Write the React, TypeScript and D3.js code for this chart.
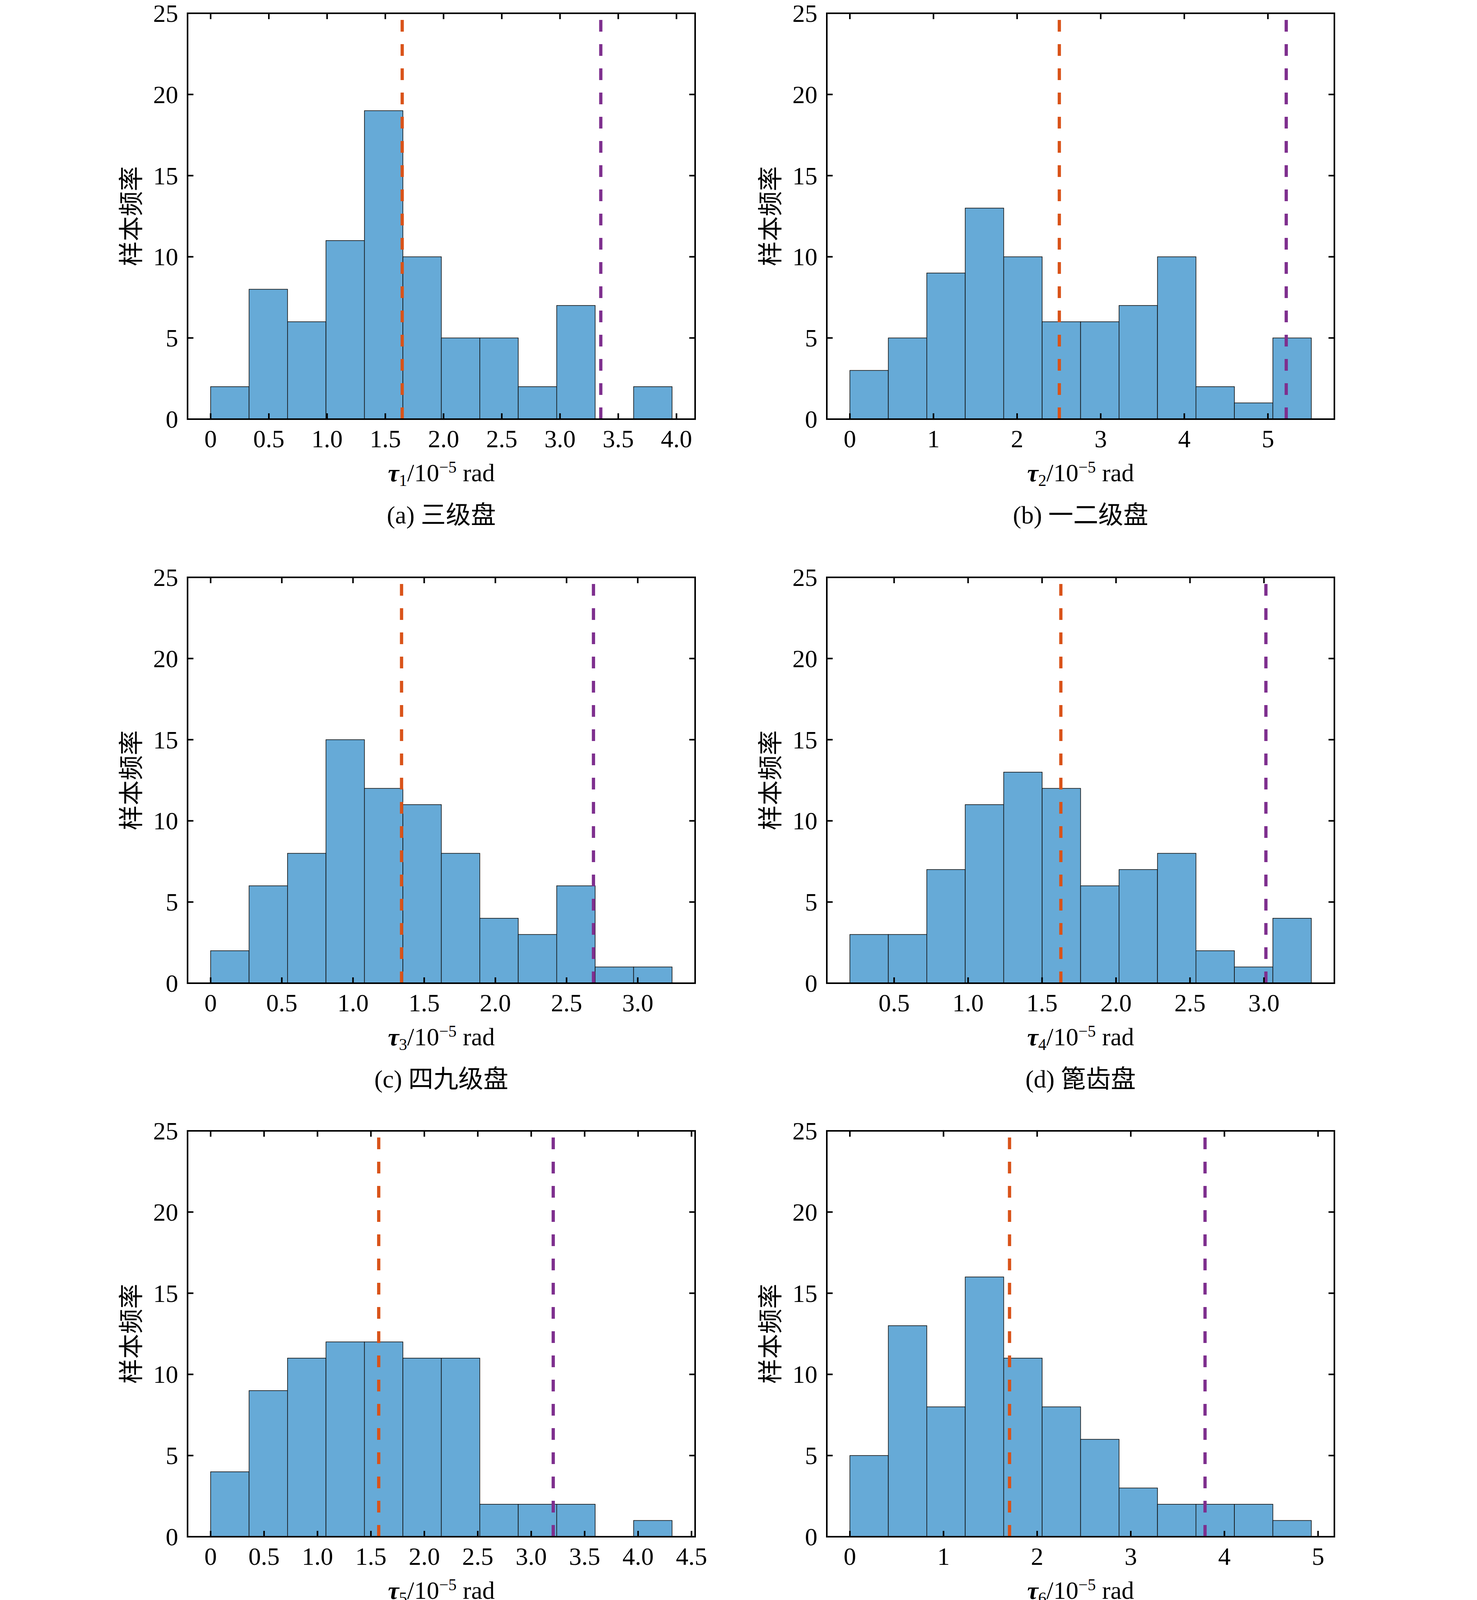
import React, { useLayoutEffect } from 'react';
import * as d3 from 'd3';

const W = 3780;
const H = 5655;

// ---------- data ----------
const CAPTIONS = ['(a) 三级盘', '(b) 一二级盘', '(c) 四九级盘', '(d) 篦齿盘', '(e) 鼓筒轴', '(f) 封严盘', '(g) 涡轮盘', '(h) 后轴'];
const TAU_INDEX = ['1', '2', '3', '4', '5', '6', '7', '8'];

// histogram bin ranges (first edge, last edge), 12 bins each
const BIN_START = [0, 0, 0, 0.201, 0, 0, 0, 0];
const BIN_END = [3.962, 5.519, 3.241, 3.32, 4.318, 4.928, 5.401, 5.165];

const COUNTS_A = [2, 8, 6, 11, 19, 10, 5, 5, 2, 7, 0, 2];
const COUNTS_B = [3, 5, 9, 13, 10, 6, 6, 7, 10, 2, 1, 5];
const COUNTS_C = [2, 6, 8, 15, 12, 11, 8, 4, 3, 6, 1, 1];
const COUNTS_D = [3, 3, 7, 11, 13, 12, 6, 7, 8, 2, 1, 4];
const COUNTS_E = [4, 9, 11, 12, 12, 11, 11, 2, 2, 2, 0, 1];
const COUNTS_F = [5, 13, 8, 16, 11, 8, 6, 3, 2, 2, 2, 1];
const COUNTS_G = [3, 14, 16, 13, 9, 9, 6, 1, 3, 1, 1, 1];
const COUNTS_H = [8, 8, 15, 7, 13, 11, 5, 4, 3, 1, 1, 1];
const COUNTS = [COUNTS_A, COUNTS_B, COUNTS_C, COUNTS_D, COUNTS_E, COUNTS_F, COUNTS_G, COUNTS_H];

// vertical dashed reference lines
const RED_X = [1.645, 2.505, 1.341, 1.627, 1.573, 1.705, 1.744, 1.774];
const PURPLE_X = [3.35, 5.219, 2.689, 3.013, 3.206, 3.793, 3.867, 3.979];

const XTICKS_A = [0, 0.5, 1, 1.5, 2, 2.5, 3, 3.5, 4];
const XTICKS_B = [0, 1, 2, 3, 4, 5];
const XTICKS_C = [0, 0.5, 1, 1.5, 2, 2.5, 3];
const XTICKS_D = [0.5, 1, 1.5, 2, 2.5, 3];
const XTICKS_E = [0, 0.5, 1, 1.5, 2, 2.5, 3, 3.5, 4, 4.5];
const XTICKS_F = [0, 1, 2, 3, 4, 5];
const XTICKS_G = [0, 1, 2, 3, 4, 5];
const XTICKS_H = [0, 1, 2, 3, 4, 5];
const XTICKS = [XTICKS_A, XTICKS_B, XTICKS_C, XTICKS_D, XTICKS_E, XTICKS_F, XTICKS_G, XTICKS_H];
const DECIMAL_LABELS = [true, false, true, true, true, false, false, false];

const Y_TICKS = [0, 5, 10, 15, 20, 25];
const Y_MAX = 25;
const N_BINS = 12;
const Y_LABEL = '样本频率';

// ---------- layout ----------
const COL_LEFT = [480, 2116];
const ROW_TOP = [34, 1478, 2895, 4320];
const BANDS = [0, 1420, 2840, 4255, 5655];
const PLOT_W = 1299;
const PLOT_H = 1039;

const BAR_FILL = '#66aad7';
const RED = '#d95319';
const PURPLE = '#7e2f8e';
const SERIF = "Liberation Serif, Times New Roman, Noto Sans CJK SC, serif";
const CJK = "Noto Sans CJK SC, sans-serif";
const FS = 64;

function Panel({ idx }: { idx: number }) {
  const col = idx % 2;
  const row = Math.floor(idx / 2);
  const left = COL_LEFT[col];
  const top = ROW_TOP[row];
  const right = left + PLOT_W;
  const bottom = top + PLOT_H;

  const start = BIN_START[idx];
  const end = BIN_END[idx];
  const pad = (end - start) * 0.05;
  const x = d3.scaleLinear().domain([start - pad, end + pad]).range([left, right]);
  const y = d3.scaleLinear().domain([0, Y_MAX]).range([bottom, top]);
  const bw = (end - start) / N_BINS;
  const counts = COUNTS[idx];
  const fmt = (v: number) => (DECIMAL_LABELS[idx] ? (v === 0 ? '0' : v.toFixed(1)) : String(v));
  const cx = (left + right) / 2;
  const tickLen = 15;

  return (
    <g>
      {counts.map((c, i) => {
        if (c === 0) return null;
        const x0 = x(start + i * bw);
        const x1 = x(start + (i + 1) * bw);
        return (
          <rect key={i} x={x0} y={y(c)} width={x1 - x0} height={y(0) - y(c)} fill={BAR_FILL} stroke="#111" strokeWidth={1.6} />
        );
      })}
      {[{ v: RED_X[idx], c: RED }, { v: PURPLE_X[idx], c: PURPLE }].map((l, i) => (
        <line key={i} x1={x(l.v)} x2={x(l.v)} y1={y(0)} y2={y(Y_MAX)} stroke={l.c} strokeWidth={8.3} strokeDasharray="30 32" />
      ))}
      <rect x={left} y={top} width={PLOT_W} height={PLOT_H} fill="none" stroke="#000" strokeWidth={4} />
      {XTICKS[idx].map((t) => (
        <g key={'x' + t}>
          <line x1={x(t)} x2={x(t)} y1={bottom} y2={bottom - tickLen} stroke="#000" strokeWidth={4} />
          <line x1={x(t)} x2={x(t)} y1={top} y2={top + tickLen} stroke="#000" strokeWidth={4} />
          <text x={x(t)} y={bottom + 72} fontFamily={SERIF} fontSize={FS} textAnchor="middle">{fmt(t)}</text>
        </g>
      ))}
      {Y_TICKS.map((t) => (
        <g key={'y' + t}>
          <line x1={left} x2={left + tickLen} y1={y(t)} y2={y(t)} stroke="#000" strokeWidth={4} />
          <line x1={right} x2={right - tickLen} y1={y(t)} y2={y(t)} stroke="#000" strokeWidth={4} />
          <text x={left - 24} y={y(t) + 22} fontFamily={SERIF} fontSize={FS} textAnchor="end">{String(t)}</text>
        </g>
      ))}
      <text transform={`translate(${left - 150},${(top + bottom) / 2}) rotate(-90)`} fontFamily={CJK} fontSize={FS} textAnchor="middle" dominantBaseline="central">{Y_LABEL}</text>
      <text x={cx} y={bottom + 159} fontFamily={SERIF} fontSize={FS} textAnchor="middle">
        <tspan fontWeight="bold" fontStyle="italic">τ</tspan>
        <tspan fontSize={42} dy={12}>{TAU_INDEX[idx]}</tspan>
        <tspan dy={-12}>/10</tspan>
        <tspan fontSize={42} dy={-22}>−5</tspan>
        <tspan dy={22}> rad</tspan>
      </text>
      <text x={cx} y={bottom + 267} fontFamily={SERIF} fontSize={FS} textAnchor="middle">{CAPTIONS[idx]}</text>
    </g>
  );
}

export default function App() {
  useLayoutEffect(() => {
    document.body.style.margin = '0';
    document.body.style.background = '#fff';
  }, []);
  const rows = [0, 1, 2, 3];
  return (
    <div style={{ width: W, height: H, background: '#fff' }}>
      {rows.map((r) => {
        const y0 = BANDS[r];
        const h = BANDS[r + 1] - BANDS[r];
        return (
          <svg key={r} width={W} height={h} viewBox={`0 ${y0} ${W} ${h}`} style={{ display: 'block' }}>
            <rect x={0} y={y0} width={W} height={h} fill="#fff" />
            <Panel idx={r * 2} />
            <Panel idx={r * 2 + 1} />
          </svg>
        );
      })}
    </div>
  );
}
